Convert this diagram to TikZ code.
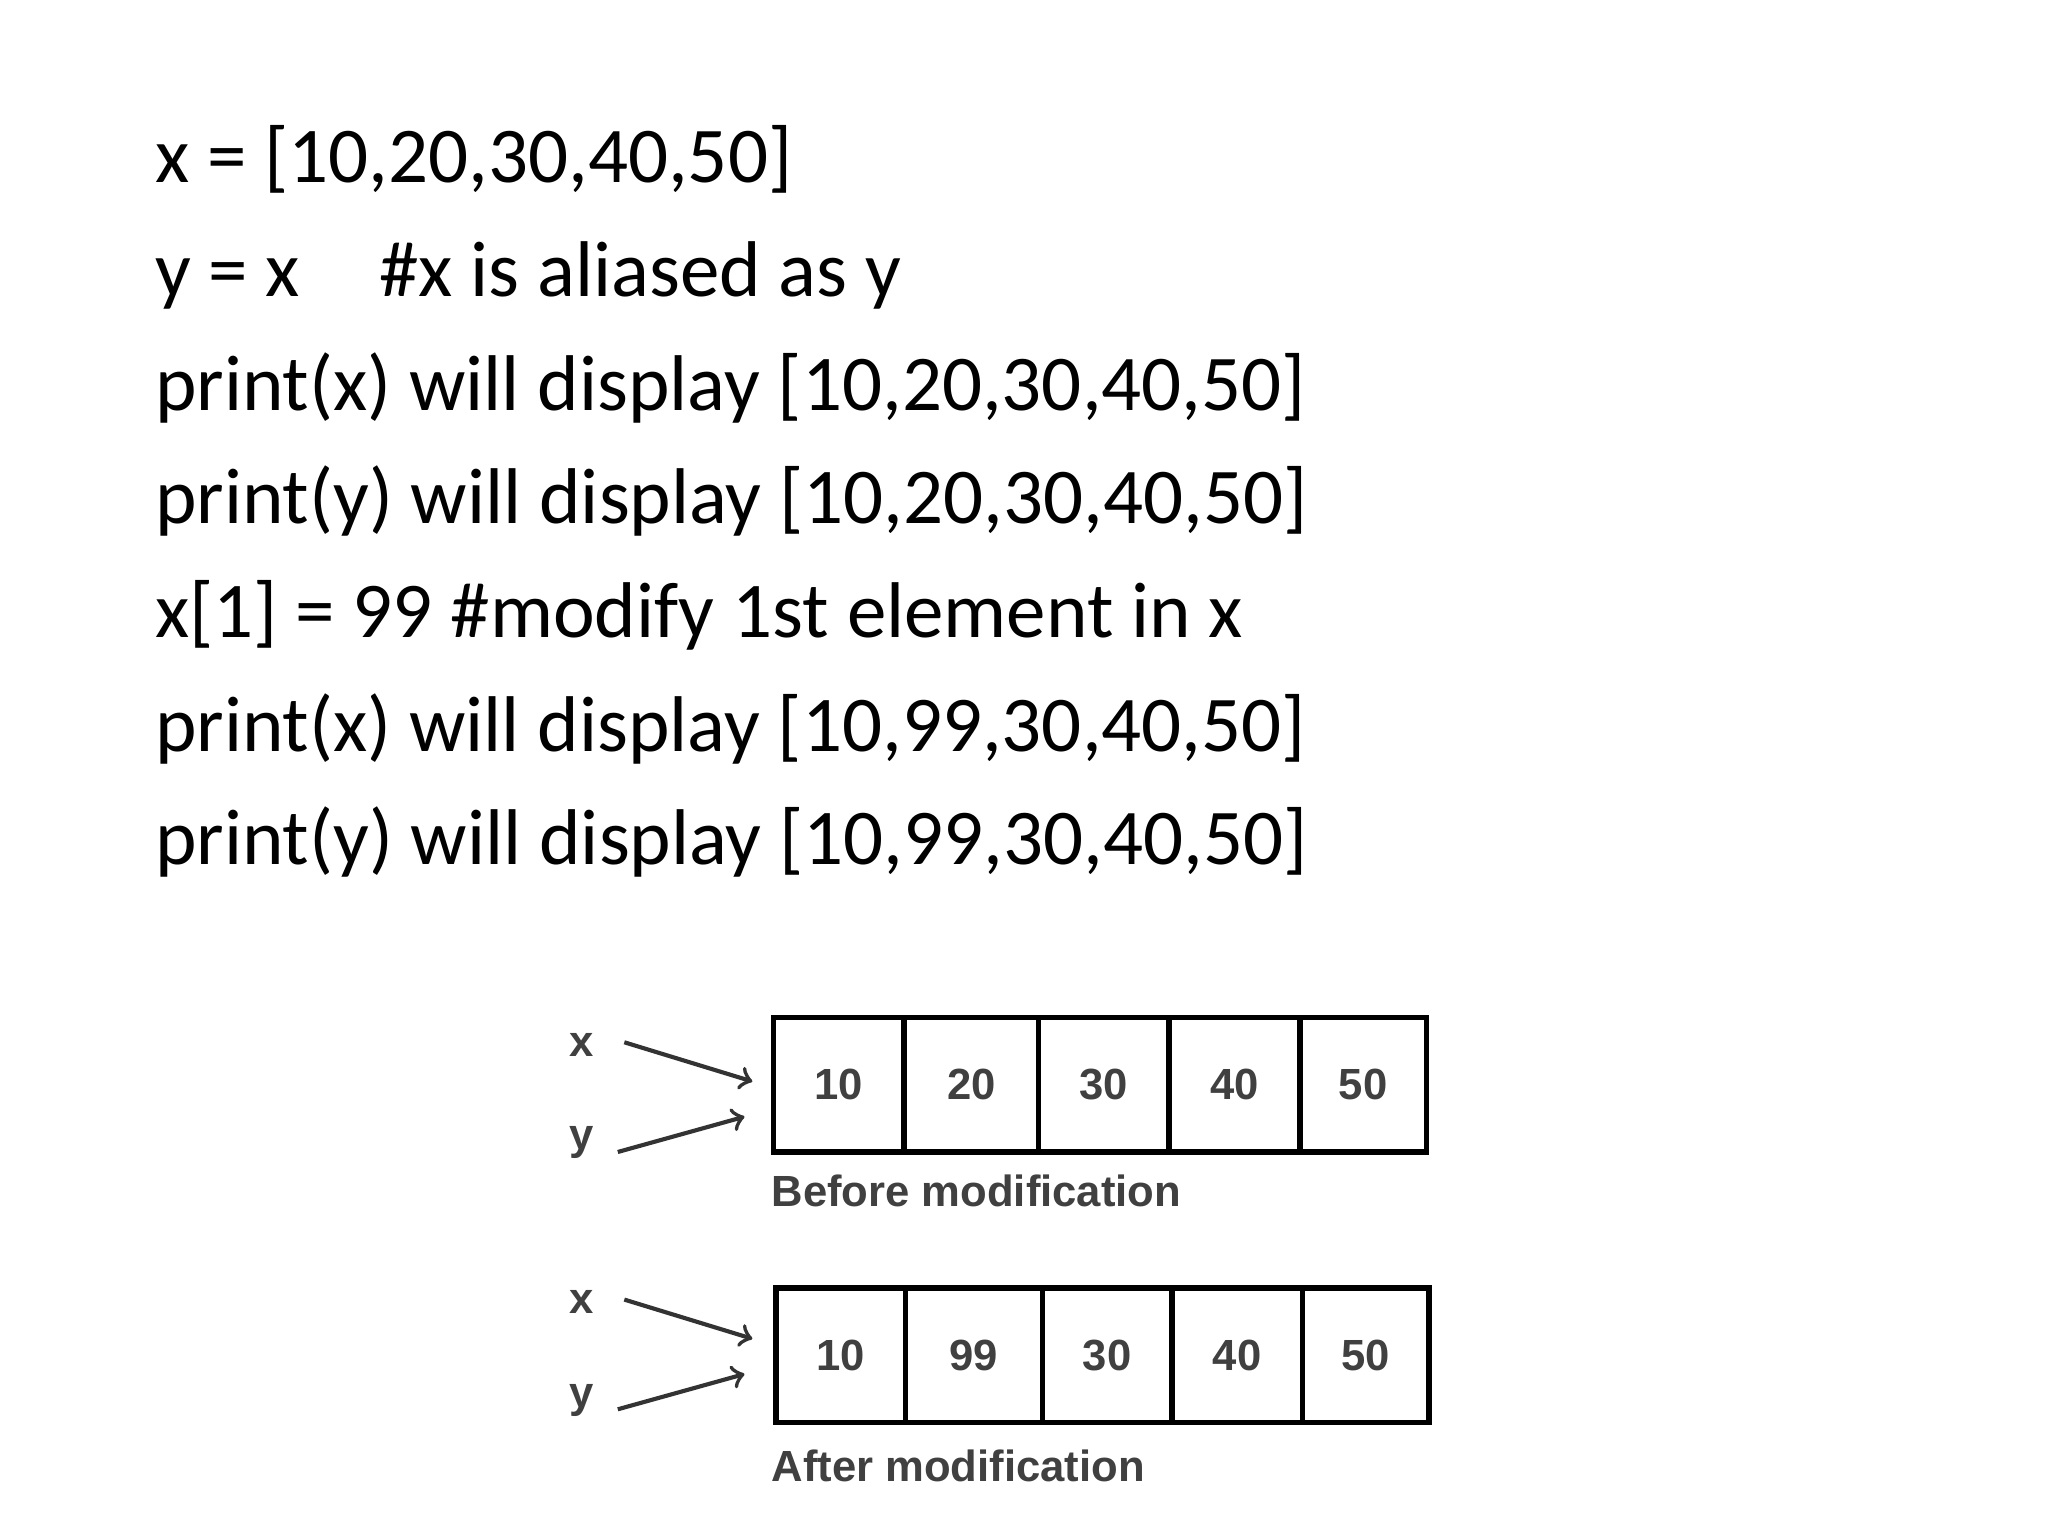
\documentclass[tikz,border=0pt]{standalone}
\usepackage{fontspec}
\setmainfont{Carlito}
\newfontfamily\diag{Liberation Sans}
\begin{document}
\begin{tikzpicture}[x=0.01cm,y=-0.01cm,
  code/.style={anchor=base west,inner sep=0pt,font=\fontsize{17.2pt}{19pt}\selectfont},
  cell/.style={draw,line width=1.2pt,anchor=north west,minimum height=1.03cm,inner sep=0pt,font=\diag\bfseries\fontsize{9.5pt}{10pt}\selectfont,text=black!75},
  lab/.style={inner sep=0pt,font=\diag\bfseries\fontsize{9.5pt}{10pt}\selectfont,text=black!75},
  ptr/.style={->,line width=0.9pt,black!80}]
\useasboundingbox (0,0) rectangle (1568,1176);
\node[code] (l1) at (118,140) {x = [10,20,30,40,50]};
\node[code] (l2) at (118,227) {y = x\hspace{1em}\#x is aliased as y};
\node[code] (l3) at (118,314) {print(x) will display [10,20,30,40,50]};
\node[code] (l4) at (118,401) {print(y) will display [10,20,30,40,50]};
\node[code] (l5) at (118,488) {x[1] = 99 \#modify 1st element in x};
\node[code] (l6) at (118,575) {print(x) will display [10,99,30,40,50]};
\node[code] (l7) at (118,662) {print(y) will display [10,99,30,40,50]};
% before
\node[cell,minimum width=1.00cm] (a1) at (590,777) {10};
\node[cell,minimum width=1.03cm] (a2) at (690,777) {20};
\node[cell,minimum width=1.00cm] (a3) at (793,777) {30};
\node[cell,minimum width=1.00cm] (a4) at (893,777) {40};
\node[cell,minimum width=0.97cm] (a5) at (993,777) {50};
\node[lab] (ax) at (445,800) {x};
\node[lab] (ay) at (445,875) {y};
\coordinate (axs) at (478,798); \coordinate (axe) at (576,828);
\coordinate (ays) at (473,882); \coordinate (aye) at (570,855);
\draw[ptr] (axs) -- (axe);
\draw[ptr] (ays) -- (aye);
\node[lab,anchor=west] (bt) at (590,912) {Before modification};
% after
\node[cell,minimum width=0.99cm] (b1) at (592,984) {10};
\node[cell,minimum width=1.05cm] (b2) at (691,984) {99};
\node[cell,minimum width=0.99cm] (b3) at (796,984) {30};
\node[cell,minimum width=1.00cm] (b4) at (895,984) {40};
\node[cell,minimum width=0.97cm] (b5) at (995,984) {50};
\node[lab] (bx) at (445,997) {x};
\node[lab] (by) at (445,1072) {y};
\coordinate (bxs) at (478,995); \coordinate (bxe) at (576,1025);
\coordinate (bys) at (473,1079); \coordinate (bye) at (570,1052);
\draw[ptr] (bxs) -- (bxe);
\draw[ptr] (bys) -- (bye);
\node[lab,anchor=west] (at) at (590,1122) {After modification};
\end{tikzpicture}
\end{document}
